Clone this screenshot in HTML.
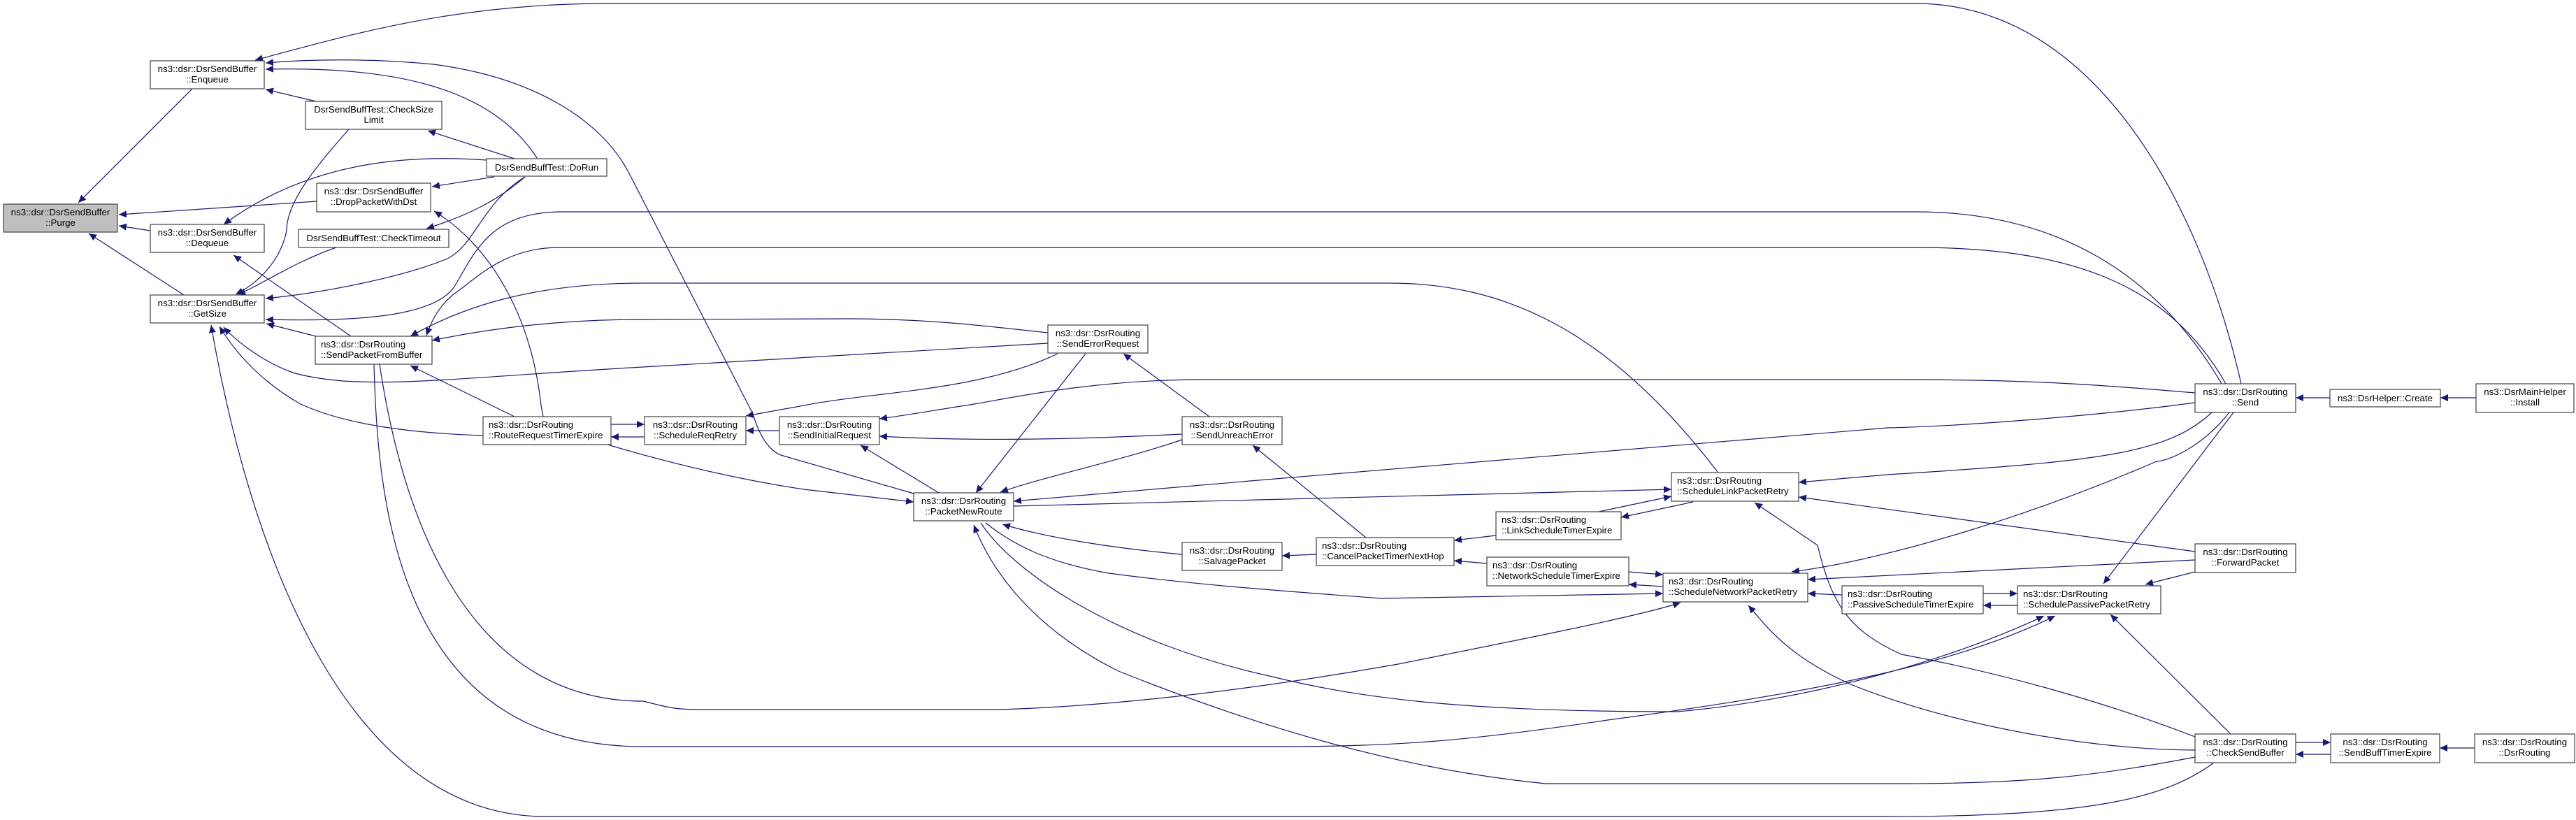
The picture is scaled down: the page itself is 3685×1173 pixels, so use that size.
<!DOCTYPE html>
<html><head><meta charset="utf-8"><style>
html,body{margin:0;padding:0;background:#fff;}
svg{display:block;}
text{font-family:"Liberation Sans",sans-serif;font-size:13.3px;fill:#000;}
.b{fill:#fff;stroke:#404040;stroke-width:1.2;}
.g{fill:#bfbfbf;stroke:#404040;stroke-width:1.2;}
path.e{fill:none;stroke:#191970;stroke-width:1.2;marker-end:url(#a);}
</style></head><body>
<svg width="3685" height="1173" viewBox="0 0 3685 1173" xmlns="http://www.w3.org/2000/svg">
<defs><marker id="a" markerUnits="userSpaceOnUse" markerWidth="12" markerHeight="10" refX="11" refY="5" orient="auto"><path d="M0,0 L11,5 L0,10 z" fill="#191970"/></marker></defs>
<g>
<path class="e" d="M275,127 L112,290"/>
<path class="e" d="M453,288 L170,307"/>
<path class="e" d="M215,330 L170,323"/>
<path class="e" d="M263,422 L127,334"/>
<path class="e" d="M3206,549 C3150,300 3000,5 2740,5 L870,5 C650,5 500,50 365,86"/>
<path class="e" d="M768,226 C700,120 550,95 380,99"/>
<path class="e" d="M1307,706 L1117,651 C1090,640 1080,600 1076,590 L900,248 C860,170 760,110 620,92 C540,84 450,84 380,90"/>
<path class="e" d="M452,145 L380,128"/>
<path class="e" d="M736,227 L612,187"/>
<path class="e" d="M707,253 L618,267"/>
<path class="e" d="M696,229 C600,222 450,225 320,321"/>
<path class="e" d="M751,253 C690,290 680,350 640,370 C580,395 470,418 380,427"/>
<path class="e" d="M751,253 C720,280 680,305 610,327"/>
<path class="e" d="M499,185 C450,240 410,290 410,330 C400,380 360,410 337,421"/>
<path class="e" d="M481,354 C420,375 370,410 340,421"/>
<path class="e" d="M3178,549 C3120,450 3000,303 2740,303 L800,303 C700,305 680,360 650,410 C620,455 500,460 380,457"/>
<path class="e" d="M3184,549 C3100,400 2950,354 2740,354 L800,354 C720,354 680,400 650,420 C625,440 615,465 610,480"/>
<path class="e" d="M2457,675 C2300,470 2150,405 1988,405 L920,405 C760,405 660,440 587,481"/>
<path class="e" d="M1499,476 C1400,465 1320,456 1217,456 L920,457 C800,457 700,470 618,487"/>
<path class="e" d="M1499,491 L920,525 C650,540 520,560 422,534 C380,520 340,490 320,468"/>
<path class="e" d="M3140,562 C3000,550 2900,543 2720,543 L1721,543 C1550,543 1420,575 1381,580 C1330,588 1290,595 1258,599"/>
<path class="e" d="M3140,576 C3000,595 2800,610 2700,612 L1800,687 L1450,717"/>
<path class="e" d="M3167,1091 C3100,1140 3000,1168 2700,1168 L780,1168 C500,1168 360,800 302,465"/>
<path class="e" d="M691,623 C600,620 500,610 430,578 C380,550 340,510 314,467"/>
<path class="e" d="M452,481 L381,463"/>
<path class="e" d="M502,481 L334,365"/>
<path class="e" d="M535,521 C540,700 560,1068 920,1068 L1820,1068 C2000,1068 2100,1060 2300,1030 C2600,990 2800,950 2940,881"/>
<path class="e" d="M543,521 C570,700 650,1003 920,1003 C950,1010 960,1015 1000,1015 L1428,1015 C1600,1010 1800,985 2000,950 C2200,910 2350,880 2404,862"/>
<path class="e" d="M736,596 L587,523"/>
<path class="e" d="M874,607 L922,607"/>
<path class="e" d="M922,625 L874,625"/>
<path class="e" d="M869,636 C950,660 1050,685 1150,700 L1307,718"/>
<path class="e" d="M777,596 L774,580 C760,450 700,350 621,302"/>
<path class="e" d="M1115,616 L1067,616"/>
<path class="e" d="M1513,506 C1400,560 1250,560 1150,580 L1067,595"/>
<path class="e" d="M1691,621 C1550,628 1400,632 1258,624"/>
<path class="e" d="M1343,705 L1231,637"/>
<path class="e" d="M1553,506 L1396,705"/>
<path class="e" d="M1730,596 L1607,506"/>
<path class="e" d="M1691,629 C1600,660 1500,680 1431,704"/>
<path class="e" d="M1954,769 L1792,637"/>
<path class="e" d="M1450,724 L1800,715 L2391,700"/>
<path class="e" d="M1691,793 C1600,785 1500,770 1434,750"/>
<path class="e" d="M1883,793 L1834,795"/>
<path class="e" d="M2140,766 L2080,773"/>
<path class="e" d="M2127,806 L2080,802"/>
<path class="e" d="M2287,732 L2391,710"/>
<path class="e" d="M2422,718 L2319,740"/>
<path class="e" d="M2330,818 L2379,822"/>
<path class="e" d="M2379,839 L2330,836"/>
<path class="e" d="M1410,748 C1450,780 1500,805 1586,820 C1700,835 1800,843 1976,856 L2379,849"/>
<path class="e" d="M1403,748 C1450,820 1600,920 1820,968 C1950,1000 2100,1018 2400,1018 C2600,1000 2800,940 2924,881"/>
<path class="e" d="M3140,1083 C3000,1110 2900,1121 2720,1121 L2211,1121 C2000,1100 1800,1040 1600,960 C1480,900 1420,820 1393,751"/>
<path class="e" d="M3140,1073 C3000,1073 2800,1040 2650,980 C2560,940 2530,900 2501,866"/>
<path class="e" d="M3140,1054 C3000,1000 2850,960 2720,936 C2640,900 2620,860 2600,780 L2510,719"/>
<path class="e" d="M3164,590 C3100,650 3000,660 2700,679 L2573,690"/>
<path class="e" d="M3140,789 L2573,711"/>
<path class="e" d="M3189,590 C3150,640 3100,660 3085,660 C2900,740 2700,800 2563,818"/>
<path class="e" d="M3140,801 L2586,829"/>
<path class="e" d="M2635,851 L2586,849"/>
<path class="e" d="M2837,849 L2886,849"/>
<path class="e" d="M2886,866 L2837,866"/>
<path class="e" d="M3195,590 L3009,835"/>
<path class="e" d="M3140,818 L3069,836"/>
<path class="e" d="M3191,1050 L3019,879"/>
<path class="e" d="M3284,1062 L3334,1062"/>
<path class="e" d="M3334,1079 L3284,1079"/>
<path class="e" d="M3540,1070 L3490,1070"/>
<path class="e" d="M3333,569 L3284,569"/>
<path class="e" d="M3542,569 L3491,569"/>
</g>
<g>
<rect class="g" x="5" y="292" width="163" height="40"/><text x="86.5" y="308" text-anchor="middle">ns3::dsr::DsrSendBuffer</text><text x="86.5" y="323" text-anchor="middle">::Purge</text>
<rect class="b" x="215" y="87" width="163" height="40"/><text x="296.5" y="103" text-anchor="middle">ns3::dsr::DsrSendBuffer</text><text x="296.5" y="118" text-anchor="middle">::Enqueue</text>
<rect class="b" x="437" y="145" width="195" height="40"/><text x="534.5" y="161" text-anchor="middle">DsrSendBuffTest::CheckSize</text><text x="534.5" y="176" text-anchor="middle">Limit</text>
<rect class="b" x="696" y="227" width="172" height="25"/><text x="782" y="244" text-anchor="middle">DsrSendBuffTest::DoRun</text>
<rect class="b" x="453" y="262" width="163" height="41"/><text x="534.5" y="278" text-anchor="middle">ns3::dsr::DsrSendBuffer</text><text x="534.5" y="293" text-anchor="middle">::DropPacketWithDst</text>
<rect class="b" x="215" y="321" width="163" height="40"/><text x="296.5" y="337" text-anchor="middle">ns3::dsr::DsrSendBuffer</text><text x="296.5" y="352" text-anchor="middle">::Dequeue</text>
<rect class="b" x="427" y="328" width="215" height="26"/><text x="534.5" y="345" text-anchor="middle">DsrSendBuffTest::CheckTimeout</text>
<rect class="b" x="215" y="422" width="163" height="40"/><text x="296.5" y="438" text-anchor="middle">ns3::dsr::DsrSendBuffer</text><text x="296.5" y="453" text-anchor="middle">::GetSize</text>
<rect class="b" x="451" y="481" width="167" height="40"/><text x="459" y="497">ns3::dsr::DsrRouting</text><text x="459" y="512">::SendPacketFromBuffer</text>
<rect class="b" x="691" y="596" width="183" height="40"/><text x="699" y="612">ns3::dsr::DsrRouting</text><text x="699" y="627">::RouteRequestTimerExpire</text>
<rect class="b" x="922" y="596" width="145" height="40"/><text x="994.5" y="612" text-anchor="middle">ns3::dsr::DsrRouting</text><text x="994.5" y="627" text-anchor="middle">::ScheduleReqRetry</text>
<rect class="b" x="1115" y="596" width="143" height="40"/><text x="1186.5" y="612" text-anchor="middle">ns3::dsr::DsrRouting</text><text x="1186.5" y="627" text-anchor="middle">::SendInitialRequest</text>
<rect class="b" x="1499" y="465" width="143" height="40"/><text x="1570.5" y="481" text-anchor="middle">ns3::dsr::DsrRouting</text><text x="1570.5" y="496" text-anchor="middle">::SendErrorRequest</text>
<rect class="b" x="1307" y="705" width="143" height="40"/><text x="1378.5" y="721" text-anchor="middle">ns3::dsr::DsrRouting</text><text x="1378.5" y="736" text-anchor="middle">::PacketNewRoute</text>
<rect class="b" x="1691" y="596" width="143" height="40"/><text x="1762.5" y="612" text-anchor="middle">ns3::dsr::DsrRouting</text><text x="1762.5" y="627" text-anchor="middle">::SendUnreachError</text>
<rect class="b" x="1691" y="776" width="143" height="40"/><text x="1762.5" y="792" text-anchor="middle">ns3::dsr::DsrRouting</text><text x="1762.5" y="807" text-anchor="middle">::SalvagePacket</text>
<rect class="b" x="1883" y="769" width="197" height="40"/><text x="1891" y="785">ns3::dsr::DsrRouting</text><text x="1891" y="800">::CancelPacketTimerNextHop</text>
<rect class="b" x="2140" y="732" width="179" height="40"/><text x="2148" y="748">ns3::dsr::DsrRouting</text><text x="2148" y="763">::LinkScheduleTimerExpire</text>
<rect class="b" x="2127" y="797" width="203" height="41"/><text x="2135" y="813">ns3::dsr::DsrRouting</text><text x="2135" y="828">::NetworkScheduleTimerExpire</text>
<rect class="b" x="2391" y="676" width="182" height="41"/><text x="2399" y="692">ns3::dsr::DsrRouting</text><text x="2399" y="707">::ScheduleLinkPacketRetry</text>
<rect class="b" x="2379" y="820" width="207" height="41"/><text x="2387" y="836">ns3::dsr::DsrRouting</text><text x="2387" y="851">::ScheduleNetworkPacketRetry</text>
<rect class="b" x="2635" y="838" width="202" height="40"/><text x="2643" y="854">ns3::dsr::DsrRouting</text><text x="2643" y="869">::PassiveScheduleTimerExpire</text>
<rect class="b" x="2886" y="838" width="205" height="40"/><text x="2894" y="854">ns3::dsr::DsrRouting</text><text x="2894" y="869">::SchedulePassivePacketRetry</text>
<rect class="b" x="3140" y="549" width="144" height="41"/><text x="3212" y="565" text-anchor="middle">ns3::dsr::DsrRouting</text><text x="3212" y="580" text-anchor="middle">::Send</text>
<rect class="b" x="3140" y="778" width="144" height="41"/><text x="3212" y="794" text-anchor="middle">ns3::dsr::DsrRouting</text><text x="3212" y="809" text-anchor="middle">::ForwardPacket</text>
<rect class="b" x="3140" y="1050" width="144" height="41"/><text x="3212" y="1066" text-anchor="middle">ns3::dsr::DsrRouting</text><text x="3212" y="1081" text-anchor="middle">::CheckSendBuffer</text>
<rect class="b" x="3334" y="1050" width="156" height="41"/><text x="3412" y="1066" text-anchor="middle">ns3::dsr::DsrRouting</text><text x="3412" y="1081" text-anchor="middle">::SendBuffTimerExpire</text>
<rect class="b" x="3540" y="1050" width="143" height="41"/><text x="3611.5" y="1066" text-anchor="middle">ns3::dsr::DsrRouting</text><text x="3611.5" y="1081" text-anchor="middle">::DsrRouting</text>
<rect class="b" x="3333" y="557" width="158" height="25"/><text x="3412" y="574" text-anchor="middle">ns3::DsrHelper::Create</text>
<rect class="b" x="3542" y="549" width="140" height="41"/><text x="3612" y="565" text-anchor="middle">ns3::DsrMainHelper</text><text x="3612" y="580" text-anchor="middle">::Install</text>
</g>
</svg>
</body></html>
